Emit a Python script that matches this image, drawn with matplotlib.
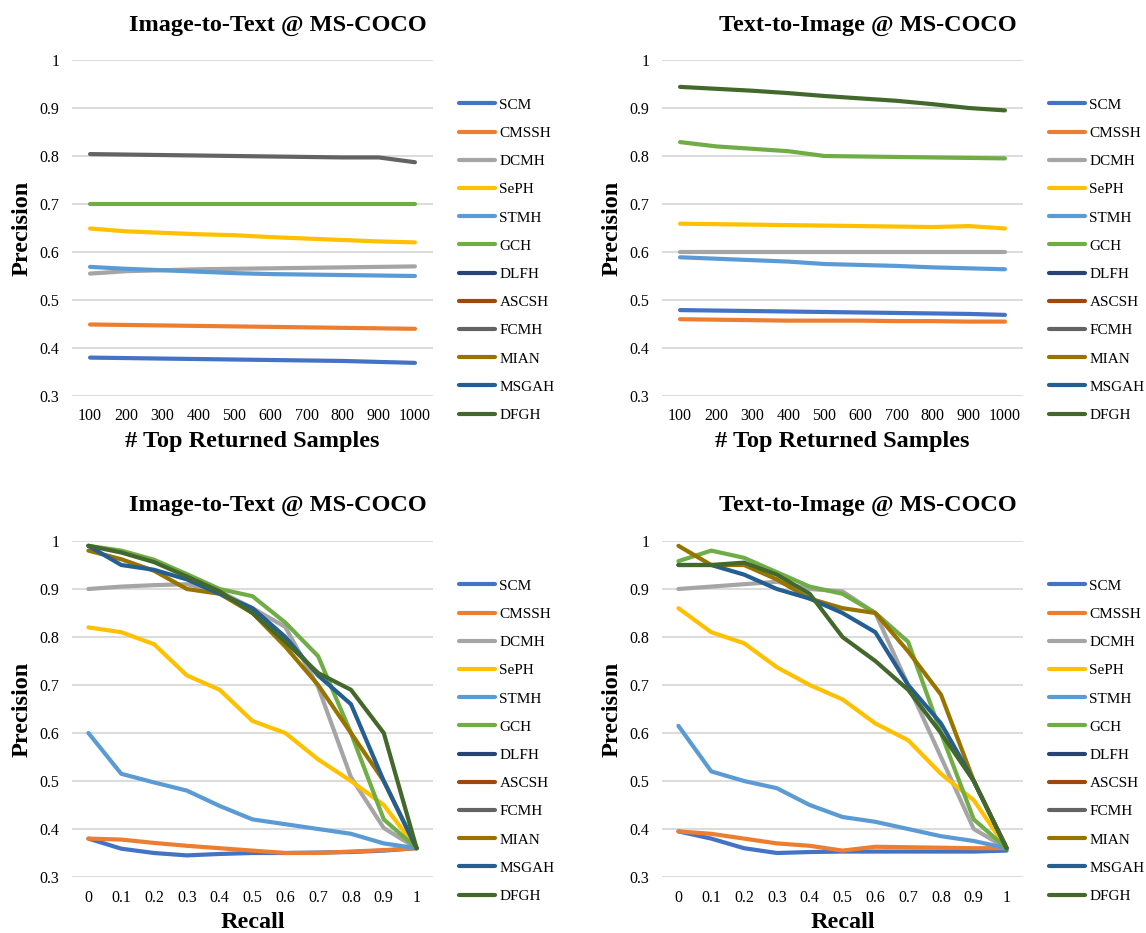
import numpy as np
import matplotlib
matplotlib.use("Agg")
import matplotlib.pyplot as plt

plt.rcParams['font.family'] = ['Liberation Serif', 'DejaVu Serif']

methods = ["SCM", "CMSSH", "DCMH", "SePH", "STMH", "GCH", "DLFH", "ASCSH",
           "FCMH", "MIAN", "MSGAH", "DFGH"]
colors = ["#4472C4", "#ED7D31", "#A5A5A5", "#FFC000", "#5B9BD5", "#70AD47",
          "#264478", "#9E480E", "#636363", "#997300", "#255E91", "#43682B"]

topk_labels = ["100", "200", "300", "400", "500", "600", "700", "800", "900", "1000"]
recall_labels = ["0", "0.1", "0.2", "0.3", "0.4", "0.5", "0.6", "0.7", "0.8", "0.9", "1"]

# Image-to-Text, precision @ top-K
i2t_topk = {
    "SCM":   [0.380, 0.379, 0.378, 0.377, 0.376, 0.375, 0.374, 0.373, 0.371, 0.369],
    "CMSSH": [0.449, 0.448, 0.447, 0.446, 0.445, 0.444, 0.443, 0.442, 0.441, 0.440],
    "DCMH":  [0.555, 0.560, 0.562, 0.564, 0.565, 0.566, 0.567, 0.568, 0.569, 0.570],
    "SePH":  [0.649, 0.643, 0.640, 0.637, 0.635, 0.631, 0.628, 0.625, 0.622, 0.620],
    "STMH":  [0.569, 0.565, 0.562, 0.559, 0.556, 0.554, 0.553, 0.552, 0.551, 0.550],
    "GCH":   [0.700, 0.700, 0.700, 0.700, 0.700, 0.700, 0.700, 0.700, 0.700, 0.700],
    "FCMH":  [0.804, 0.803, 0.802, 0.801, 0.800, 0.799, 0.798, 0.797, 0.797, 0.787],
}
# Text-to-Image, precision @ top-K
t2i_topk = {
    "SCM":   [0.479, 0.478, 0.477, 0.476, 0.475, 0.474, 0.473, 0.472, 0.471, 0.469],
    "CMSSH": [0.460, 0.459, 0.458, 0.457, 0.457, 0.457, 0.456, 0.456, 0.455, 0.455],
    "DCMH":  [0.600, 0.600, 0.600, 0.600, 0.600, 0.600, 0.600, 0.600, 0.600, 0.600],
    "SePH":  [0.659, 0.658, 0.657, 0.656, 0.655, 0.654, 0.653, 0.652, 0.654, 0.649],
    "STMH":  [0.589, 0.586, 0.583, 0.580, 0.575, 0.573, 0.571, 0.568, 0.566, 0.564],
    "GCH":   [0.829, 0.820, 0.815, 0.810, 0.800, 0.799, 0.798, 0.797, 0.796, 0.795],
    "DFGH":  [0.944, 0.940, 0.936, 0.931, 0.925, 0.920, 0.915, 0.908, 0.900, 0.895],
}
# Image-to-Text, precision-recall
i2t_pr = {
    "SCM":   [0.380, 0.359, 0.350, 0.345, 0.348, 0.350, 0.350, 0.351, 0.352, 0.355, 0.360],
    "CMSSH": [0.380, 0.378, 0.371, 0.365, 0.360, 0.355, 0.350, 0.350, 0.353, 0.356, 0.360],
    "DCMH":  [0.900, 0.905, 0.908, 0.910, 0.895, 0.860, 0.821, 0.696, 0.508, 0.402, 0.360],
    "SePH":  [0.820, 0.810, 0.785, 0.720, 0.690, 0.625, 0.600, 0.545, 0.500, 0.450, 0.360],
    "STMH":  [0.600, 0.515, 0.497, 0.480, 0.448, 0.420, 0.410, 0.400, 0.390, 0.370, 0.360],
    "GCH":   [0.990, 0.980, 0.961, 0.931, 0.900, 0.885, 0.830, 0.760, 0.600, 0.420, 0.360],
    "MIAN":  [0.980, 0.962, 0.938, 0.900, 0.890, 0.850, 0.780, 0.700, 0.600, 0.500, 0.360],
    "MSGAH": [0.990, 0.950, 0.940, 0.920, 0.890, 0.860, 0.800, 0.720, 0.660, 0.500, 0.360],
    "DFGH":  [0.990, 0.976, 0.956, 0.926, 0.895, 0.850, 0.790, 0.725, 0.690, 0.600, 0.360],
}
# Text-to-Image, precision-recall
t2i_pr = {
    "SCM":   [0.395, 0.380, 0.360, 0.350, 0.352, 0.353, 0.353, 0.353, 0.353, 0.353, 0.355],
    "CMSSH": [0.395, 0.390, 0.380, 0.370, 0.365, 0.355, 0.363, 0.362, 0.361, 0.360, 0.360],
    "DCMH":  [0.900, 0.905, 0.910, 0.915, 0.900, 0.895, 0.850, 0.700, 0.550, 0.400, 0.360],
    "SePH":  [0.860, 0.810, 0.787, 0.737, 0.700, 0.670, 0.620, 0.585, 0.515, 0.460, 0.360],
    "STMH":  [0.615, 0.520, 0.500, 0.485, 0.450, 0.425, 0.415, 0.400, 0.385, 0.375, 0.360],
    "GCH":   [0.958, 0.980, 0.965, 0.935, 0.905, 0.890, 0.850, 0.790, 0.600, 0.420, 0.360],
    "MIAN":  [0.990, 0.950, 0.950, 0.920, 0.880, 0.860, 0.850, 0.770, 0.680, 0.500, 0.360],
    "MSGAH": [0.950, 0.950, 0.930, 0.900, 0.880, 0.850, 0.810, 0.700, 0.620, 0.500, 0.360],
    "DFGH":  [0.950, 0.950, 0.955, 0.930, 0.890, 0.800, 0.750, 0.690, 0.600, 0.500, 0.360],
}

W, H = 1146, 933
fig = plt.figure(figsize=(W / 100, H / 100), dpi=100)


def px_axes(x0, y0, x1, y1):
    return fig.add_axes([x0 / W, 1 - y1 / H, (x1 - x0) / W, (y1 - y0) / H])


panels = [
    (72, 60, 433, 396, i2t_topk, topk_labels, "Image-to-Text @ MS-COCO", "# Top Returned Samples", 278),
    (662, 60, 1023, 396, t2i_topk, topk_labels, "Text-to-Image @ MS-COCO", "# Top Returned Samples", 868),
    (72, 541, 433, 877, i2t_pr, recall_labels, "Image-to-Text @ MS-COCO", "Recall", 278),
    (662, 541, 1023, 877, t2i_pr, recall_labels, "Text-to-Image @ MS-COCO", "Recall", 868),
]

for (x0, y0, x1, y1, data, xlabels, title, xlabel, tx) in panels:
    ax = px_axes(x0, y0, x1, y1)
    n = len(xlabels)
    xs = np.arange(n)
    handles = []
    for m, c in zip(methods, colors):
        vals = data.get(m)
        if vals is None:
            vals = [np.nan] * n
        h, = ax.plot(xs, vals, color=c, lw=3.0, solid_capstyle='round',
                     solid_joinstyle='round', label=m)
        handles.append(h)
    ax.set_xlim(-0.5, n - 0.5)
    ax.set_ylim(0.3, 1.0)
    ax.set_yticks([0.3, 0.4, 0.5, 0.6, 0.7, 0.8, 0.9, 1.0])
    ax.set_yticklabels(["0.3", "0.4", "0.5", "0.6", "0.7", "0.8", "0.9", "1"])
    ax.set_xticks(xs)
    ax.set_xticklabels(xlabels)
    ax.tick_params(axis='both', length=0, labelsize=11.5)
    ax.tick_params(axis='y', pad=9)
    ax.tick_params(axis='x', pad=9)
    ax.grid(axis='y', color='#D9D9D9', lw=1.3, zorder=0)
    ax.set_axisbelow(True)
    for s in ax.spines.values():
        s.set_visible(False)
    ax.set_xlabel(xlabel, fontsize=17.5, fontweight='bold', labelpad=5)
    ax.set_ylabel("Precision", fontsize=17.5, fontweight='bold', labelpad=5)
    ty = 25 if y0 < 100 else 506
    fig.text(tx / W, 1 - ty / H, title, ha='center', va='center',
             fontsize=17.5, fontweight='bold')
    lx = (x1 + 26) / W
    ly = 1 - (y0 + 38) / H
    ax.legend(handles=handles, loc='upper left', bbox_to_anchor=(lx, ly),
              bbox_transform=fig.transFigure, frameon=False, fontsize=11,
              handlelength=2.35, handletextpad=0.3, labelspacing=0.95,
              borderpad=0, borderaxespad=0)

fig.savefig("out.png", dpi=100)
